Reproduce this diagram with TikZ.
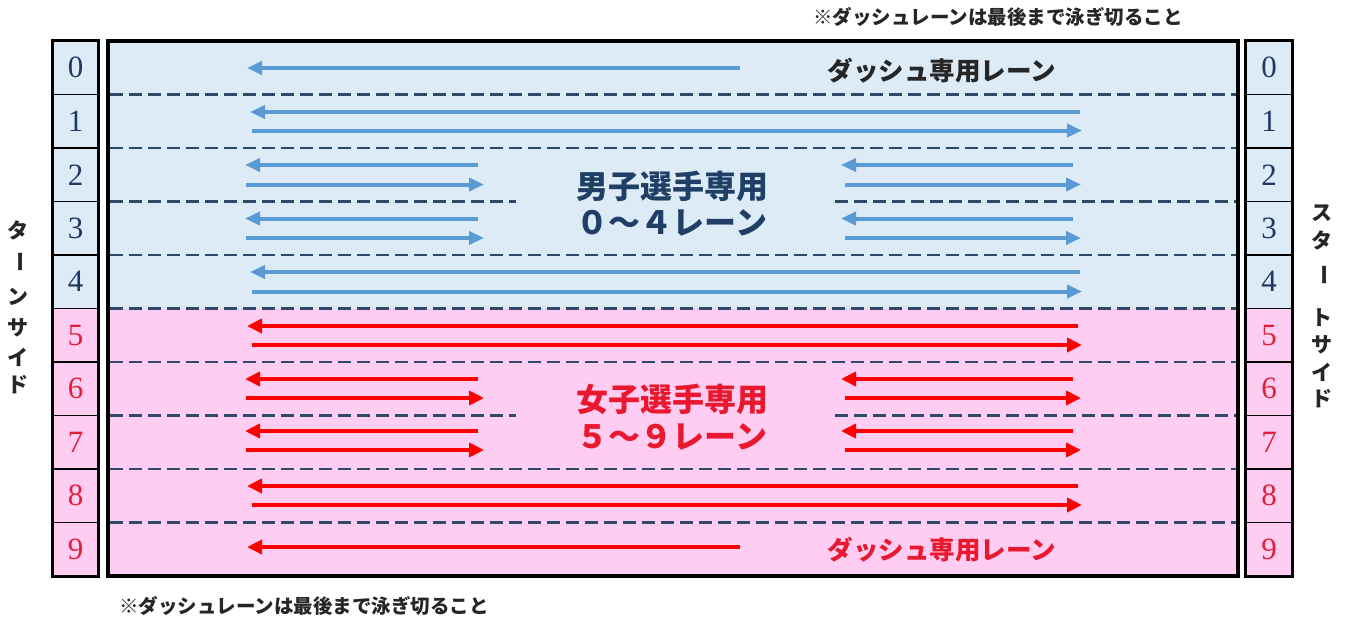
\documentclass[tikz,border=0pt]{standalone}
\usepackage{graphicx}
\usepackage{fontspec}
\setmainfont{Liberation Serif}
\newfontfamily\jp{Noto Sans CJK JP}
\usetikzlibrary{arrows.meta}
\definecolor{laneblue}{HTML}{DDEBF7}
\definecolor{lanepink}{HTML}{FFCCF2}
\definecolor{arrblue}{HTML}{5B9BD5}
\definecolor{arrred}{HTML}{FF0000}
\definecolor{numblue}{HTML}{1F3864}
\definecolor{numred}{HTML}{E0203A}
\definecolor{dashcol}{HTML}{2E4A6B}
\definecolor{txtblue}{HTML}{1F3F66}
\definecolor{txtred}{HTML}{E8182F}
\begin{document}
\begin{tikzpicture}[x=1pt,y=-1pt,
  barrow/.style={draw=arrblue,line width=4pt,-{Triangle[length=15pt,width=13pt]}},
  rarrow/.style={draw=arrred,line width=4.5pt,-{Triangle[length=15pt,width=14pt]}},
  lanesep/.style={draw=dashcol,line width=2.5pt,dash pattern=on 13pt off 6pt},
  numcell/.style={draw=black,line width=1.5pt,minimum width=45pt,minimum height=53.5pt,inner sep=0pt,font=\fontsize{31}{31}\selectfont},
  bigtxt/.style={font=\jp\bfseries\fontsize{32}{34}\selectfont,inner sep=0pt},
  dashtxt/.style={font=\jp\bfseries\fontsize{25.5}{26}\selectfont,inner sep=0pt},
  notetxt/.style={font=\jp\bfseries\fontsize{19.5}{20}\selectfont,inner sep=0pt,text=black!85},
  sidetxt/.style={font=\jp\bfseries\fontsize{21}{22}\selectfont,inner sep=0pt,text=black!85}]
\useasboundingbox (0,0) rectangle (1347,619);
\fill[white] (0,0) rectangle (1347,619);
% lane bands
\fill[laneblue] (108,41) rectangle (1238,308.5);
\fill[lanepink] (108,308.5) rectangle (1238,576);
% lane separators
\foreach \i in {1,2,4,5,6,8,9}{
  \draw[lanesep] (110,{41+53.5*\i}) -- (1236,{41+53.5*\i});
}
\foreach \i in {3,7}{
  \draw[lanesep] (110,{41+53.5*\i}) -- (516,{41+53.5*\i});
  \draw[lanesep] (835,{41+53.5*\i}) -- (1236,{41+53.5*\i});
}
% main frame
\draw[line width=4pt] (108,41) rectangle (1238,576);
% number columns
\foreach \i in {0,...,4}{
  \node[numcell,fill=laneblue,text=numblue] (L\i) at (75.5,{41+53.5*(\i+0.5)}) {\i};
  \node[numcell,fill=laneblue,text=numblue] (R\i) at (1269,{41+53.5*(\i+0.5)}) {\i};
}
\foreach \i in {5,...,9}{
  \node[numcell,fill=lanepink,text=numred] (L\i) at (75.5,{41+53.5*(\i+0.5)}) {\i};
  \node[numcell,fill=lanepink,text=numred] (R\i) at (1269,{41+53.5*(\i+0.5)}) {\i};
}
\draw[line width=3pt] (L0.north west) rectangle (L9.south east);
\draw[line width=3pt] (R0.north west) rectangle (R9.south east);
% blue arrows
\draw[barrow] (740,68) -- (247,68);
\draw[barrow] (1080,112) -- (250,112);
\draw[barrow] (252,130.5) -- (1082,130.5);
\foreach \y in {165,218.5}{
  \draw[barrow] (478,\y) -- (245,\y);
  \draw[barrow] (246,{\y+19.5}) -- (484,{\y+19.5});
  \draw[barrow] (1073,\y) -- (841,\y);
  \draw[barrow] (845,{\y+19.5}) -- (1081,{\y+19.5});
}
\draw[barrow] (1080,272) -- (250,272);
\draw[barrow] (252,291.5) -- (1082,291.5);
% red arrows
\draw[rarrow] (1078,326) -- (247,326);
\draw[rarrow] (252,345) -- (1082,345);
\foreach \y in {379,431}{
  \draw[rarrow] (478,\y) -- (245,\y);
  \draw[rarrow] (246,{\y+19}) -- (484,{\y+19});
  \draw[rarrow] (1073,\y) -- (841,\y);
  \draw[rarrow] (845,{\y+19}) -- (1081,{\y+19});
}
\draw[rarrow] (1078,486) -- (247,486);
\draw[rarrow] (252,505) -- (1082,505);
\draw[rarrow] (740,547) -- (247,547);
% center texts
\node[bigtxt,text=txtblue] (m1) at (672,186) {男子選手専用};
\node[bigtxt,text=txtblue] (m2) at (672,223) {０～４レーン};
\node[bigtxt,text=txtred] (f1) at (672,399) {女子選手専用};
\node[bigtxt,text=txtred] (f2) at (672,437) {５～９レーン};
\node[dashtxt,text=black!85] (d0) at (942,71) {ダッシュ専用レーン};
\node[dashtxt,text=txtred] (d9) at (942,550) {ダッシュ専用レーン};
% notes
\node[notetxt] (n1) at (998,17) {※ダッシュレーンは最後まで泳ぎ切ること};
\node[notetxt] (n2) at (304,606) {※ダッシュレーンは最後まで泳ぎ切ること};
% side labels
\node[sidetxt] (t1) at (18,230) {タ};
\node[sidetxt] (t2) at (18,262) {\rotatebox{-90}{ー}};
\node[sidetxt] (t3) at (18,297) {ン};
\node[sidetxt] (t4) at (18,328) {サ};
\node[sidetxt] (t5) at (18,357) {イ};
\node[sidetxt] (t6) at (18,385) {ド};
\node[sidetxt] (s1) at (1322,213) {ス};
\node[sidetxt] (s2) at (1322,240) {タ};
\node[sidetxt] (s3) at (1322,275) {\rotatebox{-90}{ー}};
\node[sidetxt] (s4) at (1322,318) {ト};
\node[sidetxt] (s5) at (1322,345) {サ};
\node[sidetxt] (s6) at (1322,372) {イ};
\node[sidetxt] (s7) at (1322,399) {ド};
\end{tikzpicture}
\end{document}
